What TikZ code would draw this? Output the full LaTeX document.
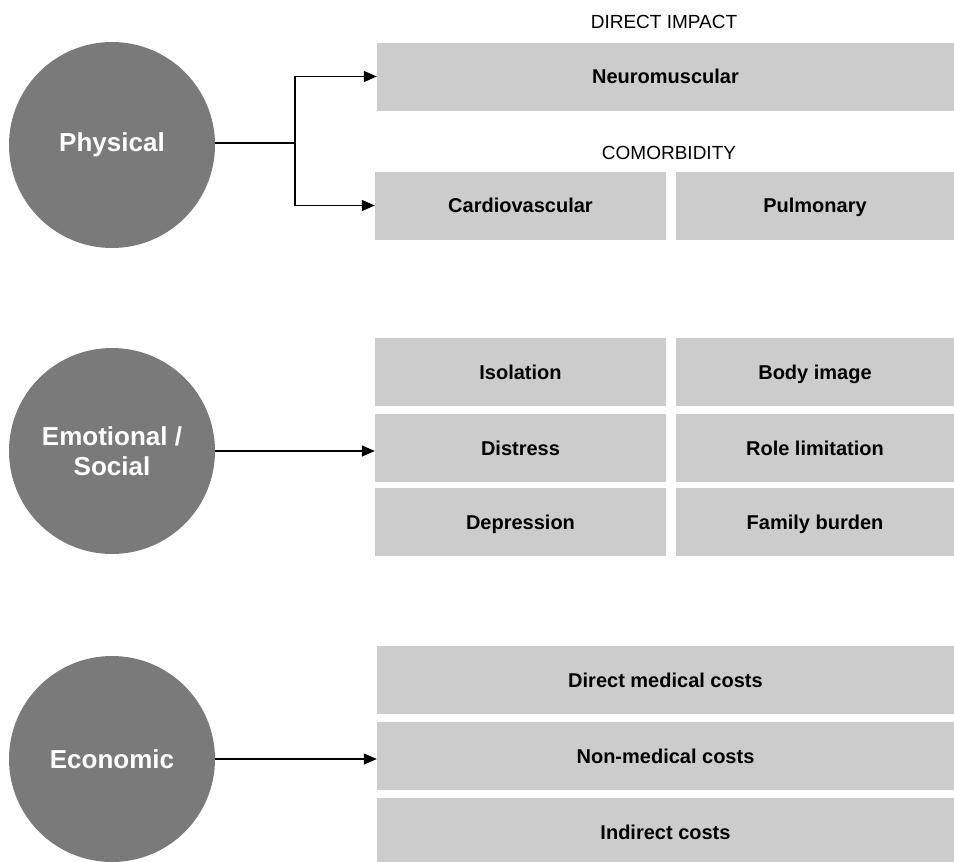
\documentclass[tikz,border=0pt]{standalone}
\usepackage{fontspec}
\setmainfont{Liberation Sans}
\usetikzlibrary{arrows.meta}

\definecolor{discgray}{HTML}{7A7A7A}
\definecolor{boxgray}{HTML}{CCCCCC}

\tikzset{
	areadisc/.style={circle, fill=discgray, text=white, font=\fontsize{26}{30}\selectfont\bfseries,
		minimum size=206pt, inner sep=0pt, align=center},
	itembox/.style={rectangle, fill=boxgray, font=\fontsize{20}{23}\selectfont\bfseries,
		minimum height=68pt, inner sep=0pt, text height=14.5pt, text depth=0pt},
	widebox/.style={itembox, minimum width=577pt},
	halfbox/.style={itembox, minimum width=291pt},
	halfboxr/.style={itembox, minimum width=278pt},
	heading/.style={font=\fontsize{19}{22}\selectfont},
	link/.style={line width=1.2pt, -{Triangle[length=13pt,width=11pt]}}
}

\begin{document}
\begin{tikzpicture}[x=1pt, y=-1pt]
\useasboundingbox (0,0) rectangle (954,862);

% left column
\node[areadisc] (phys) at (112,145) {Physical};
\node[areadisc] (emo) at (112,451) {Emotional /\\Social};
\node[areadisc] (econ) at (112,759) {Economic};

% physical
\node[heading] (hdirect) at (664,22) {DIRECT IMPACT};
\node[widebox] (neuro) at (665.5,76.5) {Neuromuscular};
\node[heading] (hcomorb) at (669,153) {COMORBIDITY};
\node[halfbox] (cardio) at (520.5,205.5) {Cardiovascular};
\node[halfboxr] (pulm) at (815,205.5) {Pulmonary};

% emotional / social
\node[halfbox] (isol) at (520.5,372) {Isolation};
\node[halfboxr] (body) at (815,372) {Body image};
\node[halfbox] (distress) at (520.5,448) {Distress};
\node[halfboxr] (role) at (815,448) {Role limitation};
\node[halfbox] (depr) at (520.5,522) {Depression};
\node[halfboxr] (family) at (815,522) {Family burden};

% economic
\node[widebox] (dmed) at (665.5,680) {Direct medical costs};
\node[widebox] (nonmed) at (665.5,756) {Non-medical costs};
\node[widebox] (indir) at (665.5,832) {Indirect costs};

% connectors
\coordinate (split) at (295,143);
\draw[line width=1.2pt] (phys.east |- split) -- (split);
\draw[link] (split) |- (neuro.west);
\draw[link] (split) |- (cardio.west);
\draw[link] (emo.east) -- (emo.east -| distress.west);
\draw[link] (econ.east) -- (econ.east -| nonmed.west);
\end{tikzpicture}
\end{document}
